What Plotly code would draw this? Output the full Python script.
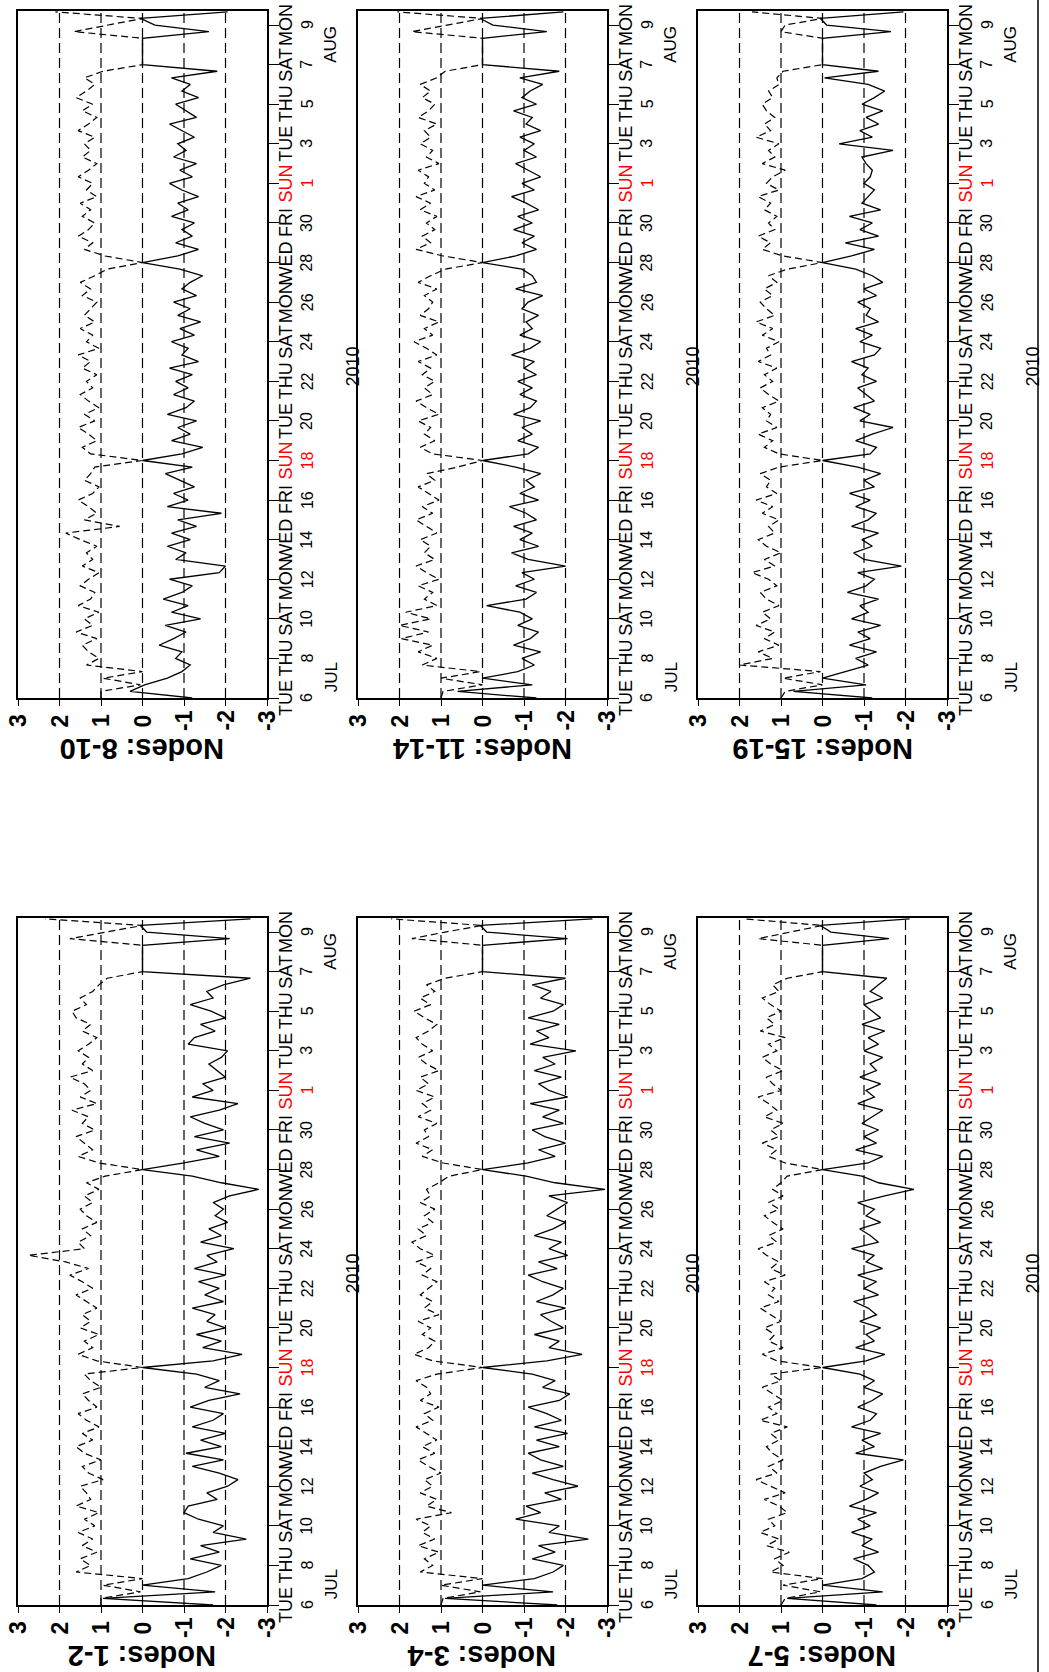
import plotly.graph_objects as go

W, H = 1049, 1672
FONT = "Arial, Liberation Sans, Helvetica, sans-serif"

# 8-hourly samples starting 2010-07-06 00:00
hours = list(range(0, 834, 8))

# ---- Nodes 1-2 -------------------------------------------------------------
s12 = [
    -1.70, 0.95, -1.75, 0.00, -1.10, -1.55, -1.90, -1.15, -1.85, -1.40, -2.50, -1.70,
    -1.95, -1.35, -1.00, -1.10, -1.80, -1.55, -2.05, -2.30, -1.85, -1.20, -1.95, -1.05,
    -1.90, -1.40, -2.00, -1.20, -1.70, -1.95, -1.15, -1.60, -2.35, -1.50, -1.85, -1.30,
    0.00, -1.70, -2.40, -1.45, -1.90, -1.30, -2.00, -1.55, -1.75, -1.20, -1.95, -1.50,
    -1.85, -1.35, -2.00, -1.25, -1.80, -1.55, -2.20, -1.40, -1.90, -1.60, -2.05, -1.75,
    -1.95, -1.70, -2.10, -2.80, -1.90, -1.20, 0.00, -1.00, -1.85, -1.30, -2.10, -1.25,
    -1.95, -1.50, -1.15, -1.85, -2.30, -1.20, -1.70, -1.45, -2.00, -1.80, -1.60, -1.90,
    -2.05, -1.10, -1.25, -1.75, -1.40, -2.00, -1.65, -1.15, -1.70, -1.55, -1.95, -2.60,
    0.00, 0.00, 0.00, 0.00, 0.00, -2.10, -0.10, 0.05, -2.60,
]
d12 = [
    1.00, 1.00, 0.05, 0.95, 0.00, 1.60, 1.25, 1.50, 1.10, 1.45, 1.20, 1.55,
    1.15, 1.40, 1.05, 1.60, 1.25, 1.35, 1.50, 0.95, 1.30, 1.45, 1.00, 1.40,
    1.60, 1.20, 1.45, 1.05, 1.35, 1.55, 1.10, 1.30, 1.45, 1.00, 1.25, 1.40,
    0.00, 1.10, 1.55, 1.20, 1.40, 1.05, 1.50, 1.25, 1.45, 1.10, 1.35, 1.60,
    1.20, 1.45, 1.75, 1.30, 1.85, 2.75, 1.40, 1.55, 1.25, 1.45, 1.10, 1.35,
    1.50, 1.20, 1.40, 1.05, 1.35, 0.90, 0.00, 1.05, 1.55, 1.20, 1.40, 1.60,
    1.15, 1.45, 1.30, 1.70, 1.10, 1.50, 1.25, 1.40, 1.75, 1.20, 1.45, 1.30,
    1.55, 1.30, 1.10, 1.45, 1.25, 1.60, 1.70, 1.35, 1.50, 1.20, 1.05, 0.85,
    0.00, 0.00, 0.00, 0.00, 0.00, 1.75, 0.85, 0.00, 2.35,
]

# ---- Nodes 3-4 -------------------------------------------------------------
s34 = [
    -1.80, 0.90, -1.70, 0.00, -1.25, -1.70, -1.95, -1.20, -1.75, -1.35, -2.55, -1.60,
    -1.85, -0.80, -1.40, -1.05, -1.90, -1.50, -2.30, -1.70, -1.20, -1.95, -1.40, -1.10,
    -1.85, -1.30, -2.05, -1.25, -1.90, -1.55, -1.10, -1.85, -2.10, -1.45, -1.75, -1.20,
    0.00, -1.55, -2.40, -1.60, -1.85, -1.25, -1.95, -1.65, -1.40, -2.00, -1.30, -1.70,
    -1.95, -1.45, -1.10, -1.80, -1.35, -2.05, -1.60, -1.90, -1.25, -1.70, -2.00, -1.55,
    -1.80, -2.05, -1.60, -2.95, -1.75, -1.05, 0.00, -1.10, -1.75, -1.35, -2.00, -1.50,
    -1.20, -1.95, -1.45, -1.85, -1.15, -2.05, -1.60, -1.35, -1.90, -1.25, -1.75, -1.45,
    -2.25, -1.15, -1.60, -1.30, -1.85, -1.10, -1.70, -1.95, -1.40, -1.65, -1.20, -2.00,
    0.00, 0.00, 0.00, 0.00, 0.00, -2.05, -0.10, 0.05, -2.65,
]
d34 = [
    1.00, 0.95, 0.05, 1.00, 0.00, 1.50, 1.20, 1.40, 1.05, 1.55, 1.15, 1.45,
    1.25, 1.60, 0.75, 1.35, 1.10, 1.50, 1.20, 1.40, 1.00, 1.30, 1.55, 1.15,
    1.45, 1.10, 1.35, 1.60, 1.20, 1.40, 1.05, 1.50, 1.25, 1.35, 1.60, 1.10,
    0.00, 1.20, 1.65, 1.30, 1.15, 1.45, 1.25, 1.55, 1.05, 1.40, 1.20, 1.50,
    1.30, 1.10, 1.45, 1.25, 1.60, 1.15, 1.50, 1.70, 1.35, 1.55, 1.20, 1.40,
    1.15, 1.50, 1.25, 1.35, 1.05, 0.80, 0.00, 0.95, 1.45, 1.20, 1.60, 1.30,
    1.40, 1.10, 1.55, 1.25, 1.45, 1.15, 1.60, 1.30, 1.50, 1.05, 1.35, 1.55,
    1.20, 1.45, 1.60, 1.30, 1.10, 1.40, 1.65, 1.25, 1.50, 1.15, 1.35, 0.90,
    0.00, 0.00, 0.00, 0.00, 0.00, 1.70, 0.90, 0.00, 2.20,
]

# ---- Nodes 5-7 -------------------------------------------------------------
s57 = [
    -1.30, 0.85, -1.45, 0.00, -0.95, -1.25, -1.10, -0.75, -1.35, -0.95, -1.20, -0.70,
    -1.15, -0.85, -1.30, -0.65, -1.05, -1.35, -0.90, -1.20, -1.00, -1.40, -1.95, -0.80,
    -1.25, -0.95, -1.40, -0.70, -1.15, -1.30, -0.85, -1.20, -1.45, -1.00, -1.25, -0.90,
    0.00, -1.05, -1.50, -0.80, -1.25, -1.05, -1.40, -0.90, -1.30, -1.10, -0.75, -1.35,
    -1.00, -1.30, -0.85, -1.45, -1.05, -1.25, -0.70, -1.35, -1.15, -0.90, -1.40, -1.05,
    -1.25, -0.85, -1.50, -2.20, -1.35, -0.95, 0.00, -1.10, -1.45, -0.80, -1.30, -1.00,
    -1.35, -0.95, -1.20, -1.45, -0.85, -1.25, -1.05, -1.40, -0.90, -1.30, -1.15, -1.45,
    -1.00, -1.35, -1.10, -1.50, -0.95, -1.40, -1.20, -1.00, -1.45, -1.15, -1.35, -1.55,
    0.00, 0.00, 0.00, 0.00, 0.00, -1.60, -0.20, 0.05, -2.10,
]
d57 = [
    1.00, 0.90, 0.05, 0.95, 0.00, 1.25, 0.95, 1.15, 0.80, 1.35, 1.05, 1.50,
    1.15, 1.30, 0.85, 1.05, 1.40, 0.90, 1.25, 1.60, 1.10, 1.30, 0.95, 1.20,
    1.35, 1.05, 1.25, 0.85, 1.50, 1.10, 1.30, 0.95, 1.20, 1.45, 1.00, 1.25,
    0.00, 1.10, 1.45, 0.95, 1.30, 1.15, 1.40, 1.00, 1.25, 1.50, 1.05, 1.30,
    1.15, 1.40, 0.90, 1.25, 1.05, 1.35, 1.55, 1.10, 1.30, 0.95, 1.20, 1.40,
    1.05, 1.30, 0.95, 1.20, 1.00, 0.85, 0.00, 0.90, 1.30, 1.10, 1.45, 1.05,
    1.25, 0.95, 1.40, 1.10, 1.30, 1.55, 1.00, 1.20, 1.35, 0.95, 1.25, 1.45,
    1.10, 1.30, 0.90, 1.50, 1.15, 1.35, 1.00, 1.25, 1.45, 1.05, 1.20, 0.85,
    0.00, 0.00, 0.00, 0.00, 0.00, 1.55, 0.80, 0.00, 1.90,
]

# ---- Nodes 8-10 ------------------------------------------------------------
s810 = [
    -1.20, 0.30, -0.05, -0.60, -0.95, -1.15, -0.80, -0.95, -0.40, -0.75, -1.05, -0.55,
    -1.40, -0.70, -1.10, -0.50, -0.95, -1.20, -0.65, -1.85, -2.00, -0.80, -1.05, -0.60,
    -1.15, -0.70, -1.30, -0.85, -1.90, -0.60, -1.10, -0.75, -1.25, -0.90, -0.55, -1.20,
    0.00, -0.95, -1.45, -0.70, -1.15, -0.85, -1.30, -0.60, -1.05, -1.25, -0.75, -1.10,
    -0.80, -1.20, -0.65, -1.35, -0.95, -1.10, -0.70, -1.25, -0.90, -1.40, -0.85, -1.15,
    -0.75, -1.30, -0.95, -1.15, -1.45, -0.90, 0.00, -0.85, -1.35, -0.80, -1.20, -0.95,
    -1.25, -0.70, -1.10, -0.85, -1.35, -0.95, -0.65, -1.20, -0.90, -1.30, -0.75, -1.05,
    -0.85, -1.25, -0.95, -0.65, -1.30, -1.05, -0.80, -1.35, -0.95, -1.15, -0.70, -1.80,
    0.00, 0.00, 0.00, 0.00, 0.00, -1.60, -0.30, 0.05, -2.05,
]
d810 = [
    1.00, 1.00, 0.05, 0.95, 0.00, 1.35, 1.05, 1.30, 1.45, 1.10, 1.60, 1.20,
    1.40, 1.05, 1.55, 1.25, 1.15, 1.50, 1.30, 1.05, 1.45, 1.20, 1.35, 1.10,
    1.50, 1.85, 0.55, 1.40, 1.10, 1.30, 1.55, 1.20, 1.05, 1.40, 1.25, 1.15,
    0.00, 1.25, 1.45, 1.10, 1.30, 1.55, 1.15, 1.40, 1.05, 1.30, 1.50, 1.20,
    1.35, 1.10, 1.45, 1.25, 1.55, 1.05, 1.35, 1.20, 1.50, 1.15, 1.40, 1.25,
    1.10, 1.45, 1.25, 1.50, 1.15, 0.85, 0.00, 0.90, 1.40, 1.20, 1.55, 1.30,
    1.15, 1.45, 1.25, 1.50, 1.10, 1.35, 1.20, 1.55, 1.30, 1.10, 1.45, 1.25,
    1.40, 1.15, 1.55, 1.30, 1.10, 1.45, 1.20, 1.60, 1.35, 1.15, 1.40, 0.95,
    0.00, 0.00, 0.00, 0.00, 0.00, 1.65, 0.85, 0.00, 2.10,
]

# ---- Nodes 11-14 -----------------------------------------------------------
s1114 = [
    -1.30, 0.60, -1.20, 0.00, -0.85, -1.25, -0.95, -1.40, -0.75, -1.15, -1.35, -0.85,
    -1.20, -0.90, -0.10, -1.05, -1.30, -0.80, -1.25, -0.95, -2.00, -1.10, -0.70, -1.35,
    -0.90, -1.20, -0.75, -1.30, -1.05, -0.65, -1.35, -0.90, -1.25, -1.05, -1.40, -0.80,
    0.00, -1.10, -1.35, -0.85, -1.20, -0.95, -1.40, -0.75, -1.15, -1.30, -0.90, -1.20,
    -0.85, -1.30, -1.00, -1.25, -0.70, -1.15, -1.40, -0.90, -1.20, -1.05, -1.35, -0.95,
    -1.10, -1.45, -0.80, -1.30, -1.20, -0.95, 0.00, -0.80, -1.30, -0.95, -1.25, -0.75,
    -1.20, -0.85, -1.35, -1.05, -0.70, -1.25, -0.95, -1.40, -1.10, -0.80, -1.30, -1.00,
    -1.25, -0.90, -1.40, -1.05, -1.20, -0.75, -1.30, -0.95, -1.15, -1.45, -0.90, -1.85,
    0.00, 0.00, 0.00, 0.00, 0.00, -1.55, -0.25, 0.05, -1.95,
]
d1114 = [
    1.00, 0.95, 0.00, 1.00, 0.05, 1.45, 1.10, 1.55, 1.20, 1.95, 1.30, 2.00,
    1.25, 1.85, 1.10, 1.40, 1.20, 1.55, 1.05, 1.35, 1.60, 1.15, 1.40, 1.25,
    1.50, 1.10, 1.35, 1.60, 1.20, 1.45, 1.05, 1.30, 1.55, 1.15, 1.35, 0.60,
    0.00, 1.20, 1.50, 1.15, 1.40, 1.25, 1.55, 1.05, 1.35, 1.60, 1.20, 1.40,
    1.15, 1.45, 1.25, 1.55, 1.10, 1.35, 1.65, 1.20, 1.40, 1.05, 1.50, 1.30,
    1.20, 1.40, 1.10, 1.55, 1.25, 0.90, 0.00, 0.95, 1.60, 1.25, 1.45, 1.15,
    1.35, 1.10, 1.50, 1.25, 1.60, 1.15, 1.40, 1.30, 1.55, 1.05, 1.35, 1.20,
    1.50, 1.25, 1.40, 1.10, 1.55, 1.30, 1.15, 1.45, 1.25, 1.50, 1.10, 0.90,
    0.00, 0.00, 0.00, 0.00, 0.00, 1.70, 0.80, 0.00, 2.05,
]

# ---- Nodes 15-19 -----------------------------------------------------------
s1519 = [
    -1.20, 0.70, -1.05, 0.00, -0.55, -1.10, -0.80, -1.30, -0.65, -1.15, -0.85, -1.40,
    -0.70, -1.10, -0.90, -1.35, -0.60, -1.05, -1.25, -0.85, -1.90, -1.00, -0.75, -1.20,
    -0.95, -1.35, -0.70, -1.10, -1.30, -0.80, -1.15, -0.65, -1.25, -1.00, -1.40, -0.85,
    0.00, -1.15, -1.30, -0.80, -1.20, -1.70, -0.90, -1.15, -0.75, -1.25, -1.05, -0.85,
    -1.30, -0.95, -1.10, -0.70, -1.25, -1.40, -0.90, -1.20, -0.80, -1.35, -1.05, -1.15,
    -0.85, -1.30, -1.00, -1.45, -1.20, -0.80, 0.00, -0.70, -1.25, -0.55, -1.35, -0.90,
    -1.20, -0.65, -1.40, -0.95, -1.10, -1.25, -1.00, -1.15, -1.20, -1.05, -0.95, -1.70,
    -0.40, -1.20, -0.90, -1.35, -1.05, -1.45, -0.95, -1.25, -1.50, -1.10, -0.05, -1.35,
    0.00, 0.00, 0.00, 0.00, 0.00, -1.65, -0.10, 0.05, -1.95,
]
d1519 = [
    1.00, 0.90, 0.00, 0.95, 0.05, 2.00, 1.20, 1.55, 1.05, 1.40, 1.15, 1.60,
    1.25, 1.45, 1.05, 1.35, 1.50, 1.10, 1.30, 1.70, 1.15, 1.40, 1.00, 1.35,
    1.55, 1.15, 1.30, 1.05, 1.45, 1.20, 1.60, 1.10, 1.35, 1.25, 1.50, 1.05,
    0.00, 1.05, 1.40, 1.20, 1.55, 1.10, 1.35, 1.25, 1.45, 1.05, 1.30, 1.50,
    1.20, 1.40, 1.10, 1.55, 1.25, 1.35, 1.05, 1.45, 1.20, 1.60, 1.15, 1.35,
    1.50, 1.20, 1.40, 1.10, 1.30, 0.85, 0.00, 0.95, 1.45, 1.25, 1.55, 1.15,
    1.30, 1.10, 1.40, 1.25, 1.55, 1.05, 1.35, 1.20, 0.90, 1.45, 1.15, 1.30,
    1.05, 1.60, 1.25, 1.40, 1.15, 1.35, 1.45, 1.20, 1.30, 1.05, 1.10, 0.95,
    0.00, 0.00, 0.00, 0.00, 0.00, 1.00, 0.90, 0.00, 1.70,
]

# Date axis: ticks every second day from Tue 6 Jul 2010
tick_days = list(range(0, 35, 2))
tick_weekdays = ["TUE", "THU", "SAT", "MON", "WED", "FRI", "SUN", "TUE", "THU",
                 "SAT", "MON", "WED", "FRI", "SUN", "TUE", "THU", "SAT", "MON"]
tick_daynums = ["6", "8", "10", "12", "14", "16", "18", "20", "22",
                "24", "26", "28", "30", "1", "3", "5", "7", "9"]
month_labels = ["JUL", "AUG"]
month_days = [1.05, 33.0]
year_label = "2010"
value_ticks = [3, 2, 1, 0, -1, -2, -3]
ref_levels = [2, 1, 0, -1, -2]

panels = [
    ("Nodes: 1-2", s12, d12),
    ("Nodes: 3-4", s34, d34),
    ("Nodes: 5-7", s57, d57),
    ("Nodes: 8-10", s810, d810),
    ("Nodes: 11-14", s1114, d1114),
    ("Nodes: 15-19", s1519, d1519),
]

# panel frames in pixels: (left, bottom)
frames = [(18, 1605), (358, 1605), (698, 1605), (18, 698), (358, 698), (698, 698)]
PW, PH = 249, 687
DAY_MAX = 34.71

fig = go.Figure()
layout = dict(
    width=W, height=H, autosize=False,
    margin=dict(l=0, r=0, t=0, b=0),
    paper_bgcolor="white", plot_bgcolor="white",
    showlegend=False,
)
shapes, annotations = [], []

for k, ((title, solid, dashed), (x0, yb)) in enumerate(zip(panels, frames)):
    suffix = "" if k == 0 else str(k + 1)
    xa, ya = f"x{suffix}", f"y{suffix}"
    xkey, ykey = f"xaxis{suffix}", f"yaxis{suffix}"

    layout[xkey] = dict(
        domain=[x0 / W, (x0 + PW) / W], range=[3, -3], anchor=ya,
        tickvals=value_ticks, ticks="outside", ticklen=6, tickwidth=1.3,
        tickcolor="black", showticklabels=False, showline=True, mirror=True,
        linecolor="black", linewidth=1.5, showgrid=False, zeroline=False,
    )
    layout[ykey] = dict(
        domain=[1 - yb / H, 1 - (yb - PH) / H], range=[0, DAY_MAX], anchor=xa,
        side="right", tickvals=tick_days, ticks="outside", ticklen=10,
        tickwidth=1.3, tickcolor="black", showticklabels=False, showline=True,
        mirror=True, linecolor="black", linewidth=1.5, showgrid=False,
        zeroline=False,
    )

    # dashed reference levels
    for v in ref_levels:
        shapes.append(dict(
            type="line", xref=xa, yref=f"{ya} domain", x0=v, x1=v, y0=0, y1=1,
            line=dict(color="black", width=1.2, dash="10px,5px"), layer="below",
        ))

    t_s = [h / 24 for h in hours[:len(solid)]]
    t_d = [h / 24 for h in hours[:len(dashed)]]
    fig.add_trace(go.Scatter(
        x=dashed, y=t_d, mode="lines", xaxis=xa, yaxis=ya,
        line=dict(color="black", width=1.2, dash="7px,4px"), hoverinfo="skip",
    ))
    fig.add_trace(go.Scatter(
        x=solid, y=t_s, mode="lines", xaxis=xa, yaxis=ya,
        line=dict(color="black", width=1.3), hoverinfo="skip",
    ))

    right = x0 + PW
    # date tick labels (weekday and day of month)
    for d, wd, dn in zip(tick_days, tick_weekdays, tick_daynums):
        col = "#ff0000" if wd == "SUN" else "black"
        annotations.append(dict(
            text=wd, x=(right + 19) / W, xref="paper", y=d, yref=ya,
            textangle=-90, showarrow=False, xanchor="center", yanchor="middle",
            font=dict(family=FONT, size=18, color=col),
        ))
        annotations.append(dict(
            text=dn, x=(right + 40) / W, xref="paper", y=d, yref=ya,
            textangle=-90, showarrow=False, xanchor="center", yanchor="middle",
            font=dict(family=FONT, size=16, color=col),
        ))
    for m, md in zip(month_labels, month_days):
        annotations.append(dict(
            text=m, x=(right + 64) / W, xref="paper", y=md, yref=ya,
            textangle=-90, showarrow=False, xanchor="center", yanchor="middle",
            font=dict(family=FONT, size=17, color="black"),
        ))
    annotations.append(dict(
        text=year_label, x=(right + 86) / W, xref="paper", y=16.75, yref=ya,
        textangle=-90, showarrow=False, xanchor="center", yanchor="middle",
        font=dict(family=FONT, size=18, color="black"),
    ))

    # value tick labels
    for v in value_ticks:
        annotations.append(dict(
            text=f"<b>{v}</b>", x=v, xref=xa, y=1 - (yb + 23) / H, yref="paper",
            textangle=-90, showarrow=False, xanchor="center", yanchor="middle",
            font=dict(family=FONT, size=23, color="black"),
        ))

    # panel title
    annotations.append(dict(
        text=f"<b>{title}</b>", x=(x0 + PW / 2) / W, xref="paper",
        y=1 - (yb + 51) / H, yref="paper", textangle=180, showarrow=False,
        xanchor="center", yanchor="middle",
        font=dict(family=FONT, size=29, color="black"),
    ))

# page border on the right
shapes.append(dict(
    type="line", xref="paper", yref="paper", x0=1038 / W, x1=1038 / W, y0=0, y1=1,
    line=dict(color="black", width=1.5),
))

layout["shapes"] = shapes
layout["annotations"] = annotations
fig.update_layout(**layout)
fig.write_html("out.html")
